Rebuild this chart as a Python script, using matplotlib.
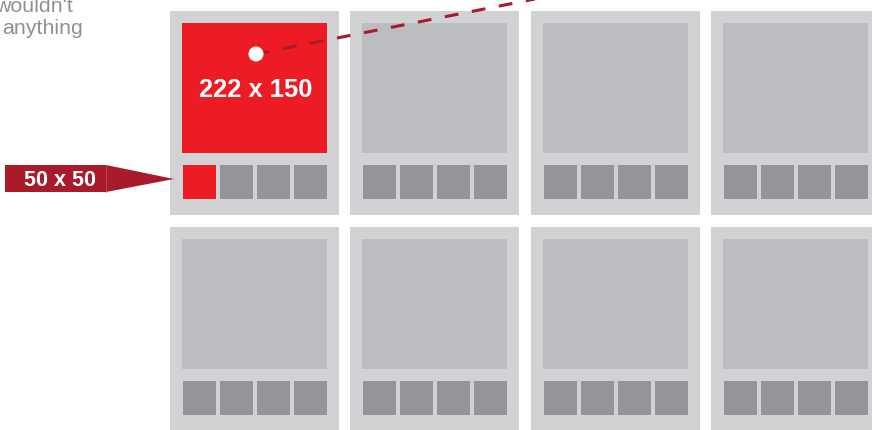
import matplotlib
matplotlib.use("Agg")
import matplotlib.pyplot as plt
from matplotlib.patches import Rectangle, Polygon, Circle

# ---- content ----
n_rows = 2
n_cols = 4
n_thumbs = 4
main_label = "222 x 150"
thumb_label = "50 x 50"
side_text = ["wouldn't", "anything"]

# ---- colours ----
CARD = "#d1d2d4"
IMG = "#bcbdc1"
THUMB = "#939598"
RED = "#ed1c24"
DARK_RED = "#a91b2a"
TEXT_GRAY = "#8e9093"

W, H = 872, 430
fig = plt.figure(figsize=(W / 100, H / 100), dpi=100)
ax = fig.add_axes([0, 0, 1, 1])
ax.set_xlim(0, W)
ax.set_ylim(H, 0)
ax.axis("off")

card_x0, card_y0 = 170, 11
pitch_x, pitch_y = 180.4, 216
card_w, card_h = 169, 204
img_dx, img_dy, img_w, img_h = 12, 12, 145, 130
th_dx, th_dy, th_w, th_h, th_gap = 13, 154, 33, 34, 4

for r in range(n_rows):
    for c in range(n_cols):
        x = card_x0 + c * pitch_x
        y = card_y0 + r * pitch_y
        ax.add_patch(Rectangle((x, y), card_w, card_h, color=CARD, lw=0))
        first = (r == 0 and c == 0)
        ax.add_patch(Rectangle((x + img_dx, y + img_dy), img_w, img_h,
                               color=RED if first else IMG, lw=0))
        for t in range(n_thumbs):
            tx = x + th_dx + t * (th_w + th_gap)
            ax.add_patch(Rectangle((tx, y + th_dy), th_w, th_h,
                                   color=RED if (first and t == 0) else THUMB, lw=0))

# dashed pointer from main image
cx, cy = 256, 54
ax.plot([cx, 540], [cy, -2], color=DARK_RED, lw=2.2, dashes=(4.5, 4.5),
        solid_capstyle="butt", dash_capstyle="butt", zorder=3)
ax.add_patch(Circle((cx, cy), 7.5, color="white", lw=0, zorder=4))

ax.text(256, 97, main_label, color="white", fontsize=18.4, fontweight="bold",
        family="Liberation Sans", ha="center", va="baseline", zorder=5)

# 50 x 50 tag with arrow
ax.add_patch(Polygon([(5, 165), (106, 165), (174, 179), (106, 192), (5, 192)],
                     closed=True, color=DARK_RED, lw=0, zorder=3))
ax.plot([106, 106], [165, 192], color="#c04a55", lw=0.6, zorder=3)
ax.text(60, 185.5, thumb_label, color="white", fontsize=15.5, fontweight="bold",
        family="Liberation Sans", ha="center", va="baseline", zorder=5)

# partial side text (cut at the edges as in the reference)
side_right = [72.7, 83]
side_base = [12.5, 34]
for s, xr, yb in zip(side_text, side_right, side_base):
    ax.text(xr, yb, s, color=TEXT_GRAY, fontsize=15.4,
            family="Liberation Sans", ha="right", va="baseline")

fig.savefig("out.png", dpi=100)
